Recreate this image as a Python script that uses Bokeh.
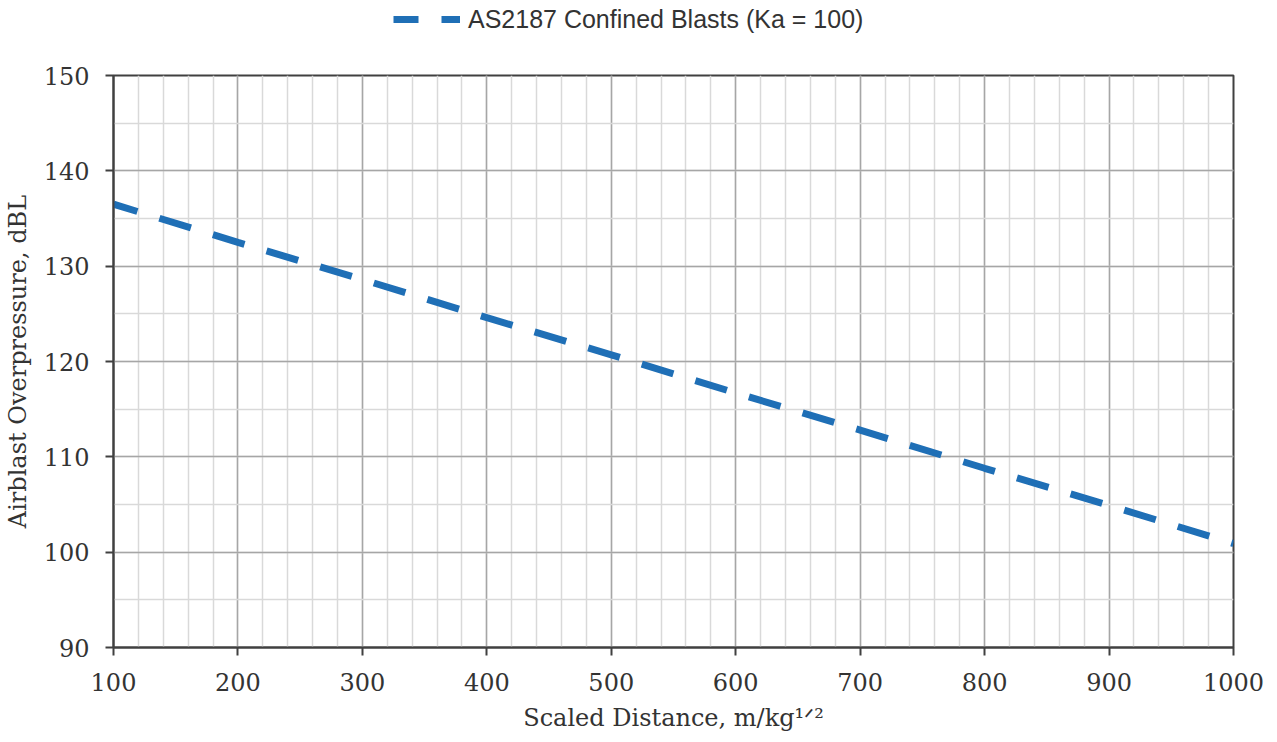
from bokeh.plotting import figure
from bokeh.layouts import column
from bokeh.models import SingleIntervalTicker, Legend, LegendItem, Range1d
from bokeh.embed import file_html
from bokeh.resources import INLINE

# ---- data ----
scaled_distance = [100, 200, 300, 400, 500, 600, 700, 800, 900, 1000]
overpressure = [136.5, 132.5, 128.6, 124.6, 120.7, 116.7, 112.8, 108.8, 104.9, 100.9]
series_name = "AS2187 Confined Blasts (Ka = 100)"
x_title = "Scaled Distance, m/kg\u00b9\u141f\u00b2"
y_title = "Airblast Overpressure, dBL"

LINE_BLUE = "#1F6FB6"
AXIS_COL = "#404040"
TEXT_COL = "#333333"
SERIF = "DejaVu Serif"
LINE_STYLE = dict(line_color=LINE_BLUE, line_width=7, line_dash="33 23",
                  line_dash_offset=8, line_cap="butt")

W = 1269
LEG_H = 42

# ---- legend strip (its own small figure so nothing is clipped) ----
lp = figure(width=W, height=LEG_H, min_border_left=0, min_border_right=0,
            min_border_top=0, min_border_bottom=0,
            x_axis_location=None, y_axis_location=None,
            x_range=Range1d(0, 1), y_range=Range1d(0, 1),
            output_backend="svg", toolbar_location=None,
            background_fill_color="white", border_fill_color="white")
lp.outline_line_color = None
lp.grid.visible = False
# same series, outside this strip's ranges: only its legend glyph shows
lr = lp.line(scaled_distance, overpressure, **LINE_STYLE)
legend = Legend(items=[LegendItem(label=series_name, renderers=[lr])],
                location=(280, 8), orientation="horizontal",
                padding=0, margin=0, spacing=0,
                glyph_width=67, glyph_height=30, label_height=30, label_standoff=8,
                label_text_font="Liberation Sans", label_text_font_size="25px",
                label_text_color=TEXT_COL,
                border_line_alpha=0, background_fill_alpha=0)
lp.add_layout(legend, "center")

# ---- main chart ----
p = figure(width=W, height=739 - LEG_H,
           min_border_left=112, min_border_right=36,
           min_border_top=75 - LEG_H, min_border_bottom=92,
           x_range=Range1d(100, 1000), y_range=Range1d(90, 150),
           output_backend="svg", toolbar_location=None,
           background_fill_color="white", border_fill_color="white")

p.outline_line_color = AXIS_COL
p.outline_line_width = 2

p.xaxis.ticker = SingleIntervalTicker(interval=100, num_minor_ticks=5)
p.yaxis.ticker = SingleIntervalTicker(interval=10, num_minor_ticks=2)

for ax in (p.xaxis, p.yaxis):
    ax.axis_line_color = AXIS_COL
    ax.axis_line_width = 2
    ax.major_tick_line_color = AXIS_COL
    ax.major_tick_line_width = 2
    ax.major_tick_out = 8
    ax.major_tick_in = 0
    ax.minor_tick_line_color = None
    ax.major_label_text_font = SERIF
    ax.major_label_text_font_size = "24px"
    ax.major_label_text_color = TEXT_COL
    ax.axis_label_text_font = SERIF
    ax.axis_label_text_font_size = "24px"
    ax.axis_label_text_font_style = "normal"
    ax.axis_label_text_color = TEXT_COL

p.xaxis.major_label_standoff = 17
p.yaxis.major_label_standoff = 16

p.yaxis.axis_label = y_title
p.yaxis.axis_label_standoff = 9
p.xaxis.axis_label = x_title
p.xaxis.axis_label_standoff = 10

for g in (p.xgrid, p.ygrid):
    g.grid_line_color = "#A6A6A6"
    g.grid_line_width = 1.5
    g.minor_grid_line_color = "#D9D9D9"
    g.minor_grid_line_width = 1.5

p.line(scaled_distance, overpressure, **LINE_STYLE)

layout = column(lp, p, spacing=0)
open("out.html", "w").write(file_html(layout, INLINE))
